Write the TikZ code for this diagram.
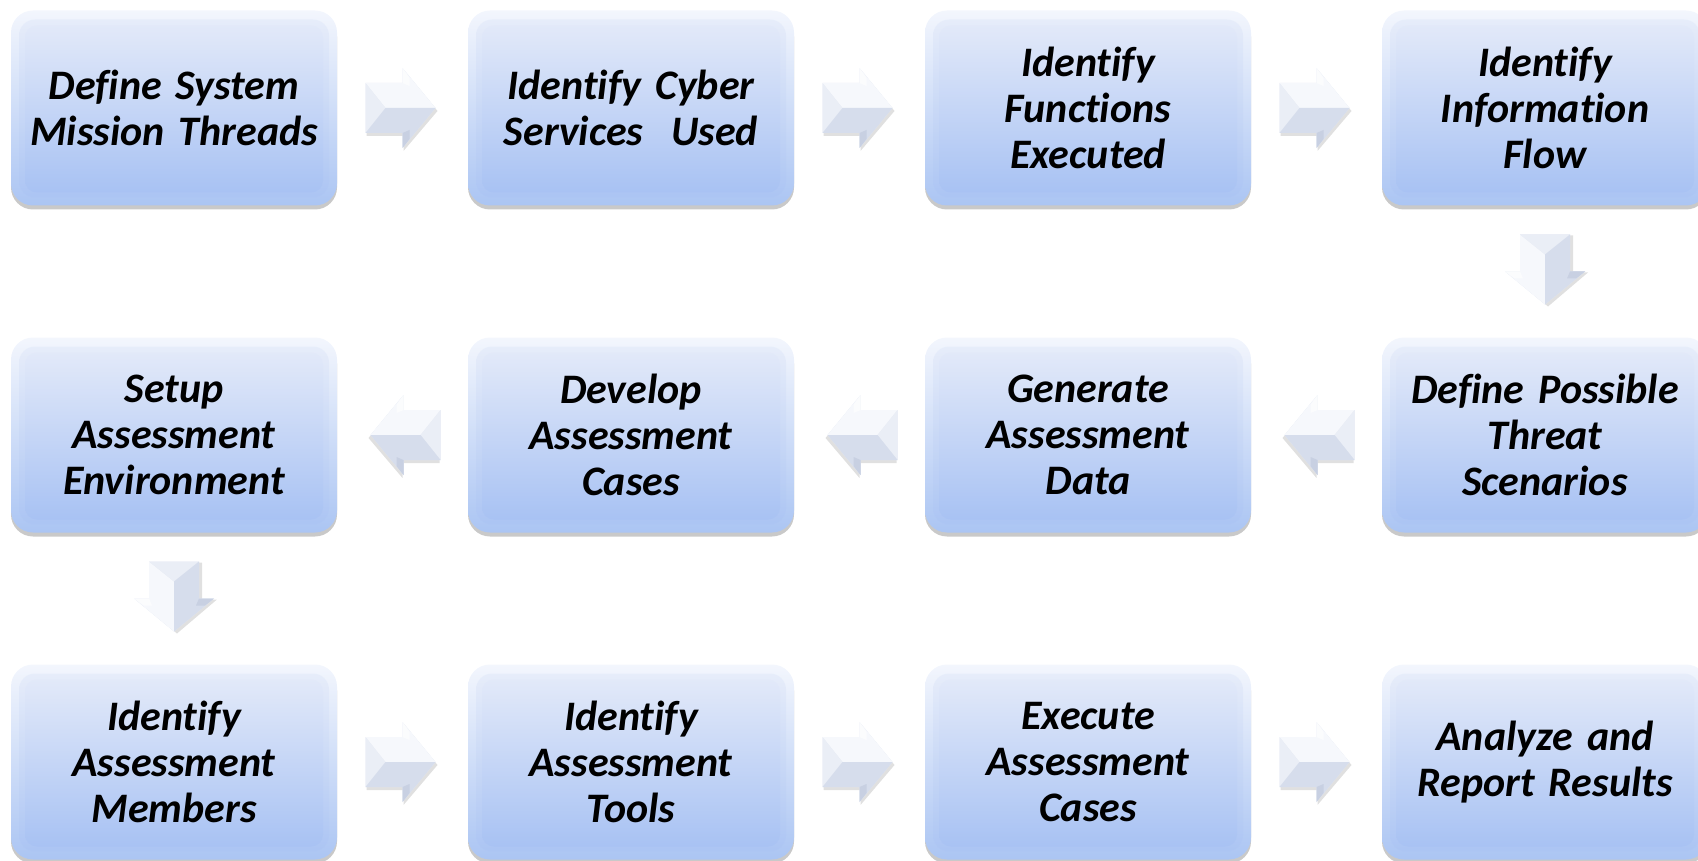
\documentclass[tikz,border=0pt]{standalone}
\usepackage{fontspec}
\setmainfont{Carlito}[Ligatures=NoCommon, WordSpace=0.8]
\usetikzlibrary{shadows,calc}
\definecolor{bxoutA}{HTML}{F3F6FD}
\definecolor{bxoutB}{HTML}{ABC5F3}
\definecolor{bxinA}{HTML}{E2E9F9}
\definecolor{bxinB}{HTML}{A8C2F3}
\definecolor{arbase}{HTML}{E3E8F3}
\definecolor{arlight}{HTML}{F6F8FC}
\definecolor{arleft}{HTML}{EAEEF6}
\definecolor{ardark}{HTML}{D6DDEC}
\definecolor{aredge}{HTML}{C8D0E2}
\tikzset{
  stepbox/.style={rounded corners=22pt, minimum width=326pt, minimum height=195pt,
    text width=316pt, align=center, inner sep=0pt,
    font=\fontsize{42}{46}\selectfont\bfseries\itshape,
    top color=bxoutA, bottom color=bxoutB, draw=none,
    drop shadow={opacity=0.3, shadow xshift=0pt, shadow yshift=-4pt, fill=black!70},
    path picture={
      \shade[top color=bxinA, bottom color=bxinB, rounded corners=16pt, opacity=0.5]
      ([shift={(8pt,-9pt)}]path picture bounding box.north west) rectangle
      ([shift={(-8pt,8pt)}]path picture bounding box.south east);
      \shade[top color=bxinA, bottom color=bxinB, rounded corners=12pt]
      ([shift={(14pt,-15pt)}]path picture bounding box.north west) rectangle
      ([shift={(-14pt,13pt)}]path picture bounding box.south east);}},
  blockarrow/.pic={
    \fill[black, opacity=0.12] (-34,23) -- (3,23) -- (3,38) -- (37,-3) -- (3,-43) -- (3,-28) -- (-34,-28) -- cycle;
    \fill[arbase] (-35,25) -- (2,25) -- (2,40) -- (35,0) -- (2,-40) -- (2,-25) -- (-35,-25) -- cycle;
    \fill[arlight] (-35,25) -- (2,25) -- (2,40) -- (35,0) -- (-15,0) -- cycle;
    \fill[arleft] (-35,25) -- (-15,0) -- (-35,-25) -- cycle;
    \fill[ardark] (-35,-25) -- (-15,0) -- (35,0) -- (2,-40) -- (2,-25) -- cycle;
    \fill[white, opacity=0.6] (2,25) -- (2,40) -- (9,30) -- (9,22) -- cycle;
    \fill[aredge] (2,-25) -- (2,-40) -- (9,-31) -- (9,-22) -- cycle;
  }
}
\begin{document}
\begin{tikzpicture}[x=1pt,y=1pt]
\useasboundingbox (0,0) rectangle (1698,-861);
% row 1
\node[stepbox] (b1) at (174,-108) {Define System\\Mission Threads};
\node[stepbox] (b2) at (631,-108) {Identify Cyber\\Services~~Used};
\node[stepbox] (b3) at (1088,-108) {Identify\\Functions\\Executed};
\node[stepbox] (b4) at (1545,-108) {Identify\\Information\\Flow};
% row 2
\node[stepbox] (b5) at (1545,-435) {Define Possible\\Threat\\Scenarios};
\node[stepbox] (b6) at (1088,-435) {Generate\\Assessment\\Data};
\node[stepbox] (b7) at (631,-435) {Develop\\Assessment\\Cases};
\node[stepbox] (b8) at (174,-435) {Setup\\Assessment\\Environment};
% row 3
\node[stepbox] (b9) at (174,-762) {Identify\\Assessment\\Members};
\node[stepbox] (b10) at (631,-762) {Identify\\Assessment\\Tools};
\node[stepbox] (b11) at (1088,-762) {Execute\\Assessment\\Cases};
\node[stepbox] (b12) at (1545,-762) {Analyze and\\Report Results};
% arrows
\pic at ($(b1.east)!0.5!(b2.west)+(-2,0)$) {blockarrow};
\pic at ($(b2.east)!0.5!(b3.west)+(-2,0)$) {blockarrow};
\pic at ($(b3.east)!0.5!(b4.west)+(-2,0)$) {blockarrow};
\pic[rotate=-90, yscale=-1] at ($(b4.south)!0.5!(b5.north)+(0,2)$) {blockarrow};
\pic[xscale=-1] at ($(b5.west)!0.5!(b6.east)+(3,0)$) {blockarrow};
\pic[xscale=-1] at ($(b6.west)!0.5!(b7.east)+(3,0)$) {blockarrow};
\pic[xscale=-1] at ($(b7.west)!0.5!(b8.east)+(3,0)$) {blockarrow};
\pic[rotate=-90, yscale=-1] at ($(b8.south)!0.5!(b9.north)+(0,2)$) {blockarrow};
\pic at ($(b9.east)!0.5!(b10.west)+(-2,0)$) {blockarrow};
\pic at ($(b10.east)!0.5!(b11.west)+(-2,0)$) {blockarrow};
\pic at ($(b11.east)!0.5!(b12.west)+(-2,0)$) {blockarrow};
\end{tikzpicture}
\end{document}
